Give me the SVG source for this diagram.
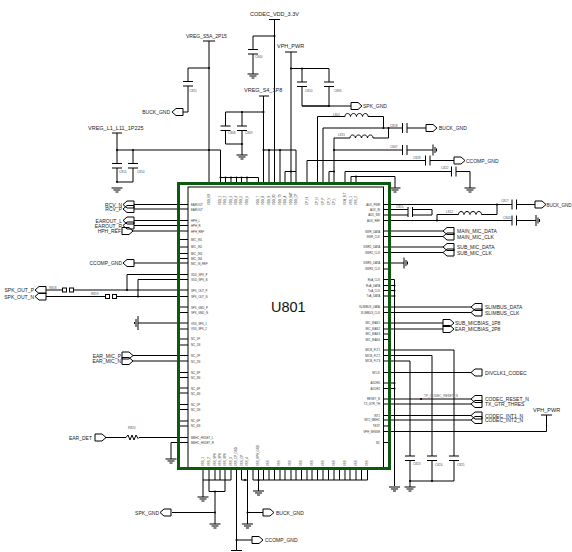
<svg xmlns="http://www.w3.org/2000/svg" xmlns:xlink="http://www.w3.org/1999/xlink" width="572" height="552" viewBox="0 0 572 552">
<style>
text{font-family:"Liberation Sans",Arial,sans-serif;fill:#222}
.t{font-size:5px}.b{font-size:5.5px}.s{font-size:3.2px;fill:#555}
.p{font-size:2.8px;fill:#333}.e{text-anchor:end}.u{font-size:14.5px;fill:#111}
.w{fill:none;stroke:#000;stroke-width:1}
.sym{fill:none;stroke:#000;stroke-width:1}
</style>
<defs>
<g id="capv" class="sym"><rect x="-5" y="0" width="10" height="4.5" fill="#fff" stroke="none"/><path d="M-5 0H5M-5 4.5H5"/></g>
<g id="caph" class="sym"><rect x="0" y="-5" width="4.5" height="10" fill="#fff" stroke="none"/><path d="M0 -5V5M4.5 -5V5"/></g>
<g id="gnd" class="sym"><path d="M-5.5 0H5.5M-3.5 2H3.5M-1.5 4H1.5"/></g>
<g id="gndh" class="sym"><path d="M0 -5.5V5.5M2 -3V3M3.5 -1.5V1.5"/></g>
<path id="pl" class="sym" d="M0 0L4 -3.5H11V3.5H4Z"/>
<path id="pr" class="sym" d="M0 -3.5H7L11 0L7 3.5H0Z"/>
<g id="ind" class="sym"><rect x="0" y="-3" width="23" height="4" fill="#fff" stroke="none"/><path d="M0 0C0 -4 5 -4 5.5 0C6 -4 11 -4 11.5 0C12 -4 17 -4 17.5 0C18 -4 23 -4 23 0"/></g>
<g id="bead"><rect x="0" y="-2" width="12" height="4" fill="#fff"/><rect x="0.5" y="-2" width="4" height="4" fill="none" stroke="#000"/><rect x="7.5" y="-2" width="4" height="4" fill="none" stroke="#000"/></g>
<g id="res"><rect x="0" y="-3" width="13" height="6" fill="#fff"/><path class="sym" d="M0 0L2 -2.5L4 2.5L6 -2.5L8 2.5L10 -2.5L12 1L13 0"/></g>
<circle id="d" r="1" fill="#000"/>
</defs>
<g id="connectors" class="w">
<path d="M209 41V183M209 68H188V112H183M117 133V182H133V150M117 150H220.5V183M220.5 177.5H258.5V183M225.5 177.5V183M231 177.5V183M236.5 177.5V183M241.5 177.5V183M247 177.5V183"/>
<path d="M274.5 19V183M274.5 36H253V74M291 52V183M291 68.5H329V106H302V68.5M302 106H351"/>
<path d="M263.5 96V183M263.5 112H225.5V144H242V155M242 112V144M263.5 150H296V183M269 150V183M280 150V183M285 171.5H296M285 171.5V183"/>
<path d="M307 160.5H454M307 160.5V183M317.5 116.5H383.5V128M317.5 116.5V183M323 128H426M323 128V183M388.5 128V138H334V183M334 150H433M329 171.5H334M329 171.5V183M345 171.5H470V188M345 171.5V183M351 176.5H395V188M351 176.5V183M356 176.5V183"/>
<path d="M134 204.5H188M134 209H188M134 220.5H188M134 225.5H188M132 231H188M134 263H188M127 274.5H188M138 279.5H188M127 274.5V290M138 279.5V296.5M46 290H188M46 296.5H188M138 323H188M133 355.5H188M133 361H188M105 437.5H188"/>
<path d="M178 239.5H188M178 247H188M178 253.5H188M178 258.5H188M178 307H188M178 312.5H188M178 329H188M178 339H188M178 345H188M178 372.5H188M178 377.5H188M178 388H188M178 393H188M178 404.5H188M178 409.5H188M178 421H188M178 426H188M171 442.5H188M171 442.5V459"/>
<path d="M383 204.5H535M383 209.5H432V215H383M383 220.5H512M437 220.5V214.5H497V204.5M516 220.5H536"/>
<path d="M383 231H443M383 236.5H443M383 247H443M383 252.5H443M383 263H404M383 307H471M383 312.5H471M383 323H443M383 329H443M383 350H454V481H410V487M383 355.5H432V481M383 361H410V481M383 372.5H471M383 399H471M383 404H471M383 415.5H471M383 420H471M383 431.5H546.5V415"/>
<path d="M383 269H390M383 334H390M383 339.5H390M383 426H390M383 442.5H390M383 279.5H394.5M383 285.5H394.5M383 290.5H394.5M383 296H394.5M383 383H394.5M383 388.5H394.5M394.5 279.5V486"/>
<path d="M203 468V480H231V468M209 468V480M215 468V480M220 468V480M225 468V480M209 491.5H225V480M209 480V491.5M215 491V524M215 512.5H172M203 480V497M236.5 468V550M236.5 540H252M241.5 468V480H247.5V468M247.5 480V524M247.5 512.5H263M253 468V480H367.5V468M258.5 480V491"/>
<path d="M258.5 468V480M263.5 468V480M269 468V480M274.5 468V480M280 468V480M285 468V480M291 468V480M296 468V480M301.5 468V480M307 468V480M312 468V480M317.5 468V480M323 468V480M328.5 468V480M334 468V480M339.5 468V480M345 468V480M350 468V480M356 468V480M361.5 468V480"/>
</g>
<g id="junctions">
<use href="#d" x="209" y="68"/><use href="#d" x="133" y="150"/><use href="#d" x="117" y="150"/><use href="#d" x="117" y="182"/><use href="#d" x="209" y="150"/><use href="#d" x="220.5" y="177.5"/><use href="#d" x="225.5" y="177.5"/><use href="#d" x="231" y="177.5"/><use href="#d" x="236.5" y="177.5"/><use href="#d" x="241.5" y="177.5"/><use href="#d" x="247" y="177.5"/>
<use href="#d" x="274.5" y="36"/><use href="#d" x="291" y="68.5"/><use href="#d" x="302" y="68.5"/><use href="#d" x="329" y="106"/><use href="#d" x="263.5" y="112"/><use href="#d" x="242" y="112"/><use href="#d" x="242" y="144"/><use href="#d" x="263.5" y="150"/><use href="#d" x="269" y="150"/><use href="#d" x="280" y="150"/><use href="#d" x="291" y="171.5"/><use href="#d" x="383.5" y="128"/><use href="#d" x="388.5" y="128"/><use href="#d" x="334" y="150"/><use href="#d" x="334" y="171.5"/><use href="#d" x="356" y="176.5"/>
<use href="#d" x="127" y="290"/><use href="#d" x="138" y="296.5"/><use href="#d" x="497" y="204.5"/><use href="#d" x="437" y="220.5"/><use href="#d" x="394.5" y="285.5"/><use href="#d" x="394.5" y="290.5"/><use href="#d" x="394.5" y="296"/><use href="#d" x="394.5" y="383"/><use href="#d" x="394.5" y="388.5"/><use href="#d" x="421" y="399"/><use href="#d" x="410" y="481"/><use href="#d" x="432" y="481"/><use href="#d" x="215" y="491.5"/><use href="#d" x="215" y="512.5"/><use href="#d" x="236.5" y="540"/><use href="#d" x="247.5" y="512.5"/><use href="#d" x="258.5" y="480"/><use href="#d" x="245" y="480"/>
</g>
<g id="VREG_S5A_2P15"><text class="t" x="186" y="38">VREG_S5A_2P15</text><path class="sym" d="M203 41H215"/></g>
<g id="VREG_L1_L11_1P225"><text class="b" x="88" y="130">VREG_L1_L11_1P225</text><path class="sym" d="M112 133H122"/></g>
<g id="CODEC_VDD_3_3V"><text class="b" x="250" y="16">CODEC_VDD_3.3V</text><path class="sym" d="M269 19.5H280"/></g>
<g id="VPH_PWR_top"><text class="b" x="277" y="48">VPH_PWR</text><path class="sym" d="M285 52H297"/></g>
<g id="VREG_S4_1P8"><text class="b" x="244" y="92">VREG_S4_1P8</text><path class="sym" d="M259 96H269"/></g>
<g id="VPH_PWR_right"><text class="b" x="533" y="412">VPH_PWR</text><path class="sym" d="M541 415H552"/></g>
<g id="C811"><use href="#capv" x="188" y="81.5"/><text class="s" x="189.5" y="92">C811</text></g>
<g id="C840"><use href="#capv" x="253" y="49.5"/><text class="s" x="255" y="58">C840</text></g>
<g id="C810"><use href="#capv" x="302" y="82"/><text class="s" x="305" y="91.5">C810</text></g>
<g id="C896"><use href="#capv" x="329" y="82"/><text class="s" x="334" y="91.5">C896</text></g>
<g id="C808"><use href="#capv" x="225.5" y="126"/><text class="s" x="228" y="134">C808</text></g>
<g id="C809"><use href="#capv" x="242" y="126"/><text class="s" x="245" y="134">C809</text></g>
<g id="C815a"><use href="#capv" x="117" y="163.5"/><text class="s" x="119" y="172.5">C815</text></g>
<g id="C814"><use href="#capv" x="133" y="163.5"/><text class="s" x="137" y="172.5">C814</text></g>
<g id="C818"><use href="#caph" x="402.5" y="128"/><text class="s" x="390" y="126.5">C818</text></g>
<g id="C847"><use href="#caph" x="402.5" y="150"/><text class="s" x="390" y="148">C847</text></g>
<g id="C828"><use href="#caph" x="425.5" y="160.5"/><text class="s" x="413" y="158.5">C828</text></g>
<g id="C822"><use href="#caph" x="451.5" y="171.5"/><text class="s" x="441" y="169">C822</text></g>
<g id="C817"><use href="#caph" x="512" y="204.5"/><text class="s" x="501" y="202">C817</text></g>
<g id="C843"><use href="#caph" x="512" y="220.5"/><text class="s" x="503" y="218.5">C843</text></g>
<g id="C815"><use href="#caph" x="408" y="212"/><text class="s" x="396" y="208">C815</text></g>
<g id="C823"><use href="#capv" x="410" y="456"/><text class="s" x="413" y="465">C823</text></g>
<g id="C824"><use href="#capv" x="432" y="456"/><text class="s" x="435" y="465.5">C824</text></g>
<g id="C825"><use href="#capv" x="454" y="456"/><text class="s" x="457" y="465.5">C825</text></g>
<g id="L801"><use href="#ind" x="345" y="116.5"/><text class="s" x="333" y="115.5">L801</text></g>
<g id="L815"><use href="#ind" x="350" y="138"/><text class="s" x="338" y="136">L815</text></g>
<g id="L812"><use href="#ind" x="458.5" y="214.5"/><text class="s" x="446" y="212.5">L812</text></g>
<g id="R818"><use href="#bead" x="62" y="290"/><text class="s" x="49" y="289">R818</text></g>
<g id="R819"><use href="#bead" x="105" y="296.5"/><text class="s" x="91" y="295">R819</text></g>
<g id="R820"><use href="#res" x="126" y="437.5"/><text class="s" x="128" y="429">R820</text></g>
<g id="grounds"><use href="#gnd" x="253" y="74"/><use href="#gnd" x="242" y="155"/><use href="#gnd" x="117" y="188"/><use href="#gnd" x="395" y="188"/><use href="#gnd" x="470" y="188"/><use href="#gndh" x="433" y="150"/><use href="#gndh" x="536" y="220.5"/><use href="#gndh" x="404" y="263"/><use href="#gnd" x="171" y="459"/><use href="#gnd" x="203" y="497"/><use href="#gnd" x="215" y="524"/><use href="#gnd" x="247.5" y="524"/><use href="#gnd" x="258.5" y="491"/><use href="#gnd" x="394.5" y="487"/><use href="#gnd" x="410" y="487"/><path class="sym" d="M231 550.5H242"/><path class="sym" d="M138 316V330M136 319V327M134.5 322V324"/></g>
<g id="BUCK_GND_1"><use href="#pl" x="172" y="112"/><text class="t e" x="170" y="114">BUCK_GND</text></g>
<g id="SPK_GND_1"><use href="#pr" x="351" y="106"/><text class="t" x="363" y="108">SPK_GND</text></g>
<g id="BUCK_GND_2"><use href="#pr" x="426" y="128"/><text class="t" x="439" y="130">BUCK_GND</text></g>
<g id="CCOMP_GND_1"><use href="#pr" x="454" y="160.5"/><text class="t" x="466" y="162.5">CCOMP_GND</text></g>
<g id="BUCK_GND_3"><use href="#pr" x="535" y="204.5"/><text x="546.5" y="206.5" style="font-size:4.5px">BUCK_GND</text></g>
<g id="RCV_N"><use href="#pl" x="123" y="204.5"/><text class="t e" x="122" y="206.5">RCV_N</text></g>
<g id="RCV_P"><use href="#pl" x="123" y="209"/><text class="t e" x="122" y="211">RCV_P</text></g>
<g id="EAROUT_L"><use href="#pl" x="123" y="220.5"/><text class="t e" x="122" y="222.5">EAROUT_L</text></g>
<g id="EAROUT_R"><use href="#pl" x="123" y="225.5"/><text class="t e" x="122" y="227.5">EAROUT_R</text></g>
<g id="HPH_REF"><use href="#pr" x="122" y="231"/><text class="t e" x="121" y="233">HPH_REF</text></g>
<g id="CCOMP_GND_2"><use href="#pl" x="123" y="263"/><text class="t e" x="122" y="265">CCOMP_GND</text></g>
<g id="SPK_OUT_P"><use href="#pl" x="35" y="290"/><text class="t e" x="34" y="292">SPK_OUT_P</text></g>
<g id="SPK_OUT_N"><use href="#pl" x="35" y="296.5"/><text class="t e" x="34" y="298.5">SPK_OUT_N</text></g>
<g id="EAR_MIC_P"><use href="#pr" x="122" y="355.5"/><text class="t e" x="121" y="357.5">EAR_MIC_P</text></g>
<g id="EAR_MIC_N"><use href="#pr" x="122" y="361"/><text class="t e" x="121" y="363">EAR_MIC_N</text></g>
<g id="EAR_DET"><use href="#pr" x="95" y="437.5"/><text class="t e" x="92" y="439.5">EAR_DET</text></g>
<g id="MAIN_MIC_DATA"><use href="#pl" x="443" y="231"/><text class="t" x="457" y="233">MAIN_MIC_DATA</text></g>
<g id="MAIN_MIC_CLK"><use href="#pl" x="443" y="236.5"/><text class="t" x="457" y="238.5">MAIN_MIC_CLK</text></g>
<g id="SUB_MIC_DATA"><use href="#pl" x="443" y="247"/><text class="t" x="457" y="249">SUB_MIC_DATA</text></g>
<g id="SUB_MIC_CLK"><use href="#pl" x="443" y="252.5"/><text class="t" x="457" y="254.5">SUB_MIC_CLK</text></g>
<g id="SLIMBUS_DATA"><use href="#pl" x="471" y="307"/><text class="t" x="485" y="309">SLIMBUS_DATA</text></g>
<g id="SLIMBUS_CLK"><use href="#pl" x="471" y="312.5"/><text class="t" x="485" y="314.5">SLIMBUS_CLK</text></g>
<g id="SUB_MICBIAS_1P8"><use href="#pr" x="443" y="323"/><text class="t" x="455" y="325">SUB_MICBIAS_1P8</text></g>
<g id="EAR_MICBIAS_2P8"><use href="#pr" x="443" y="329"/><text class="t" x="455" y="331">EAR_MICBIAS_2P8</text></g>
<g id="DIVCLK1_CODEC"><use href="#pl" x="471" y="372.5"/><text class="t" x="485" y="374.5">DIVCLK1_CODEC</text></g>
<g id="CODEC_RESET_N"><use href="#pl" x="471" y="399"/><text class="t" x="485" y="401">CODEC_RESET_N</text></g>
<g id="TX_GTR_THRES"><use href="#pl" x="471" y="404"/><text class="t" x="485" y="406">TX_GTR_THRES</text></g>
<g id="CODEC_INT1_N"><use href="#pl" x="471" y="415.5"/><text class="t" x="485" y="417.5">CODEC_INT1_N</text></g>
<g id="CODEC_INT2_N"><use href="#pl" x="471" y="420"/><text class="t" x="485" y="422">CODEC_INT2_N</text></g>
<g id="TP_CODEC_RESET_N"><text class="s" x="424" y="396.5">TP_CODEC_RESET_N</text></g>
<g id="SPK_GND_2"><use href="#pl" x="160" y="512.5"/><text class="t e" x="159" y="514.5">SPK_GND</text></g>
<g id="BUCK_GND_4"><use href="#pr" x="263" y="512.5"/><text class="t" x="276" y="514.5">BUCK_GND</text></g>
<g id="CCOMP_GND_3"><use href="#pr" x="252" y="540"/><text class="t" x="265" y="542">CCOMP_GND</text></g>
<g id="U801">
<rect x="188" y="187" width="195.5" height="281" fill="none" stroke="#000"/>
<rect x="178.5" y="183.5" width="211" height="285" fill="none" stroke="#0b5a0f" stroke-width="3"/>
<text class="u" x="271" y="312">U801</text>
<g id="U801-left-names">
<text class="p" x="191" y="205.5">EAROUT</text><text class="p" x="191" y="210.5">EAROUT</text><text class="p" x="191" y="222">HPH_L</text><text class="p" x="191" y="227">HPH_R</text><text class="p" x="191" y="232.5">HPH_REF</text><text class="p" x="191" y="240.5">MIC_IN1</text><text class="p" x="191" y="248">MIC_IN2</text><text class="p" x="191" y="254.5">MIC_IN3</text><text class="p" x="191" y="259.5">MIC_IN4</text><text class="p" x="191" y="264.5">MIC_IN_REF</text><text class="p" x="191" y="275.5">VDD_SPK_P</text><text class="p" x="191" y="280.5">VDD_SPK_N</text><text class="p" x="191" y="291.5">SPK_OUT_P</text><text class="p" x="191" y="297.5">SPK_OUT_N</text><text class="p" x="191" y="308.5">SPK_GND_P</text><text class="p" x="191" y="313.5">SPK_GND_N</text><text class="p" x="191" y="324.5">VSS_SPK_1</text><text class="p" x="191" y="330">VSS_SPK_2</text><text class="p" x="191" y="340">NC_1P</text><text class="p" x="191" y="346">NC_1N</text><text class="p" x="191" y="356.5">NC_2P</text><text class="p" x="191" y="362.5">NC_2N</text><text class="p" x="191" y="373.5">NC_3P</text><text class="p" x="191" y="378.5">NC_3N</text><text class="p" x="191" y="389.5">NC_4P</text><text class="p" x="191" y="394.5">NC_4N</text><text class="p" x="191" y="405.5">NC_5P</text><text class="p" x="191" y="410.5">NC_5N</text><text class="p" x="191" y="422">NC_6P</text><text class="p" x="191" y="427">NC_6N</text><text class="p" x="191" y="438.5">MBHC_HSDET_L</text><text class="p" x="191" y="443.5">MBHC_HSDET_R</text>
</g>
<g id="U801-right-names">
<text class="p e" x="380" y="205.5">AUX_PWR</text><text class="p e" x="380" y="210.5">AUX_IN</text><text class="p e" x="380" y="216">AUX_SW</text><text class="p e" x="380" y="221.5">AUX_REF</text><text class="p e" x="380" y="232.5">SWR_DATA</text><text class="p e" x="380" y="238">SWR_CLK</text><text class="p e" x="380" y="248">SWR2_DATA</text><text class="p e" x="380" y="253.5">SWR2_CLK</text><text class="p e" x="380" y="264">SWR3_DATA</text><text class="p e" x="380" y="270">SWR3_CLK</text><text class="p e" x="380" y="280.5">RxA_CLK</text><text class="p e" x="380" y="286.5">RxA_DATA</text><text class="p e" x="380" y="291.5">TxA_CLK</text><text class="p e" x="380" y="297">TxA_DATA</text><text class="p e" x="380" y="308">SLIMBUS_DATA</text><text class="p e" x="380" y="313.5">SLIMBUS_CLK</text><text class="p e" x="380" y="324">MIC_BIAS1</text><text class="p e" x="380" y="330">MIC_BIAS2</text><text class="p e" x="380" y="335">MIC_BIAS3</text><text class="p e" x="380" y="340.5">MIC_BIAS4</text><text class="p e" x="380" y="351">MICB_FLT1</text><text class="p e" x="380" y="356.5">MICB_FLT2</text><text class="p e" x="380" y="362">MICB_FLT3</text><text class="p e" x="380" y="373.5">MCLK</text><text class="p e" x="380" y="384">ADDR0</text><text class="p e" x="380" y="389.5">ADDR1</text><text class="p e" x="380" y="400">RESET_N</text><text class="p e" x="380" y="405">TX_GTR_TH</text><text class="p e" x="380" y="416.5">INT1</text><text class="p e" x="380" y="421">INT2_MBHC</text><text class="p e" x="380" y="427">TEST</text><text class="p e" x="380" y="432.5">VPH_SENSE</text><text class="p e" x="380" y="443.5">NC</text>
</g>
<g id="U801-top-names">
<text class="p" transform="rotate(-90 210 205)" x="210" y="205">VDD_RX</text><text class="p" transform="rotate(-90 221 205)" x="221" y="205">VDD_1</text><text class="p" transform="rotate(-90 226 205)" x="226" y="205">VDD_2</text><text class="p" transform="rotate(-90 232 205)" x="232" y="205">VDD_3</text><text class="p" transform="rotate(-90 237 205)" x="237" y="205">VDD_4</text><text class="p" transform="rotate(-90 242 205)" x="242" y="205">VDD_5</text><text class="p" transform="rotate(-90 248 205)" x="248" y="205">VDD_6</text><text class="p" transform="rotate(-90 259 205)" x="259" y="205">VDD_7</text><text class="p" transform="rotate(-90 264 205)" x="264" y="205">VDD_8</text><text class="p" transform="rotate(-90 270 205)" x="270" y="205">VDD_9</text><text class="p" transform="rotate(-90 275 205)" x="275" y="205">VDD_IO</text><text class="p" transform="rotate(-90 281 205)" x="281" y="205">VDD_TX</text><text class="p" transform="rotate(-90 286 205)" x="286" y="205">VDD_A</text><text class="p" transform="rotate(-90 292 205)" x="292" y="205">VDD_BAT</text><text class="p" transform="rotate(-90 297 205)" x="297" y="205">VDD_CP</text><text class="p" transform="rotate(-90 308 205)" x="308" y="205">CP_HI</text><text class="p" transform="rotate(-90 318 205)" x="318" y="205">CP_N</text><text class="p" transform="rotate(-90 324 205)" x="324" y="205">CP_P</text><text class="p" transform="rotate(-90 330 205)" x="330" y="205">CP_V</text><text class="p" transform="rotate(-90 335 205)" x="335" y="205">CP_L</text><text class="p" transform="rotate(-90 346 205)" x="346" y="205">VCM_FLT</text><text class="p" transform="rotate(-90 352 205)" x="352" y="205">VSS_1</text><text class="p" transform="rotate(-90 357 205)" x="357" y="205">VSS_2</text>
</g>
<g id="U801-bottom-names">
<text class="p" transform="rotate(-90 204 466)" x="204" y="466">VSS_1</text><text class="p" transform="rotate(-90 210 466)" x="210" y="466">VSS_2</text><text class="p" transform="rotate(-90 216 466)" x="216" y="466">VSS_SPK</text><text class="p" transform="rotate(-90 221 466)" x="221" y="466">VSS_SPK</text><text class="p" transform="rotate(-90 226 466)" x="226" y="466">VSS_SPK</text><text class="p" transform="rotate(-90 232 466)" x="232" y="466">VSS_3</text><text class="p" transform="rotate(-90 237 466)" x="237" y="466">VSS_CP_GND</text><text class="p" transform="rotate(-90 243 466)" x="243" y="466">VSS_CP</text><text class="p" transform="rotate(-90 248 466)" x="248" y="466">VSS_4</text><text class="p" transform="rotate(-90 259 466)" x="259" y="466">VSS_HPH_GND</text>
<text class="p" transform="rotate(-90 269 466)" x="269" y="466">VSS</text><text class="p" transform="rotate(-90 280 466)" x="280" y="466">VSS</text><text class="p" transform="rotate(-90 291 466)" x="291" y="466">VSS</text><text class="p" transform="rotate(-90 302 466)" x="302" y="466">VSS</text><text class="p" transform="rotate(-90 313 466)" x="313" y="466">VSS</text><text class="p" transform="rotate(-90 324 466)" x="324" y="466">VSS</text><text class="p" transform="rotate(-90 335 466)" x="335" y="466">VSS</text><text class="p" transform="rotate(-90 346 466)" x="346" y="466">VSS</text><text class="p" transform="rotate(-90 357 466)" x="357" y="466">VSS</text><text class="p" transform="rotate(-90 368 466)" x="368" y="466">VSS</text>
</g>
</g>
</svg>
